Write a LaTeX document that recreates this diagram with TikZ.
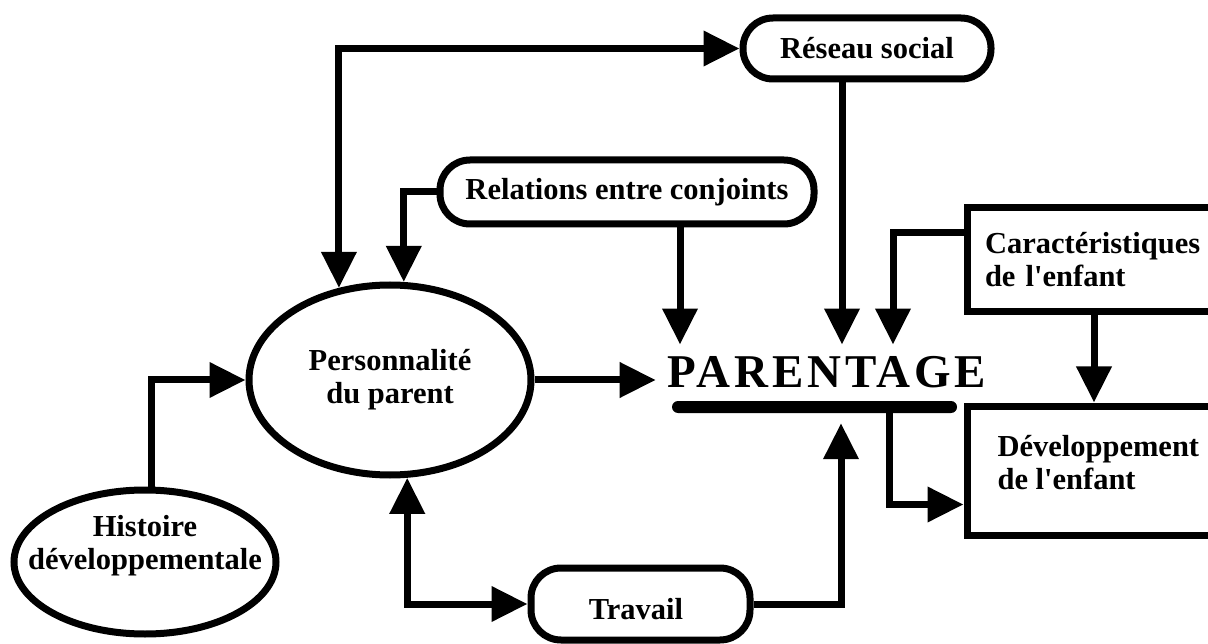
\documentclass[tikz,border=0pt]{standalone}
\usepackage{fontspec}
\setmainfont{Liberation Serif}
\newfontfamily\partitle{Liberation Serif}[LetterSpace=8]
\usetikzlibrary{arrows.meta,calc,shapes.geometric}

\tikzset{
  lbl/.style={font=\bfseries\fontsize{30.5}{33}\selectfont, align=center},
  pill/.style={draw, line width=7pt, rounded corners=30pt, inner sep=0pt},
  sqbox/.style={draw, line width=7pt, inner sep=0pt},
  oval/.style={draw, ellipse, line width=7pt, inner sep=0pt},
  tip/.tip={Triangle[length=36pt,width=34pt]},
  link/.style={line width=7pt, -tip},
  twoway/.style={line width=7pt, tip-tip}
}

\begin{document}
\begin{tikzpicture}[x=1pt,y=-1pt]
\useasboundingbox (0,0) rectangle (1208,644);

% boxes and ovals
\node[pill, lbl, minimum width=248pt, minimum height=61pt] (reseau) at (867,48.5) {Réseau social};
\node[pill, lbl, minimum width=374pt, minimum height=64pt] (relations) at (627,192) {Relations entre conjoints};
\node[pill, minimum width=219pt, minimum height=72pt] (travail) at (640.5,604) {};
\node[lbl] (travtxt) at (636,609) {Travail};
\node[oval, lbl, minimum width=282pt, minimum height=190pt] (perso) at (390,380) {Personnalité\\du parent};
\node[oval, minimum width=262pt, minimum height=144pt] (histoire) at (145,562) {};
\node[lbl] (histtxt) at (145,546) {Histoire\\développementale};
\node[sqbox, lbl, align=left, text width=250pt, inner xsep=18pt, minimum width=286pt, minimum height=104pt] (caract) at (1110,260) {Caractéristiques\\de l\textquotesingle enfant};
\node[sqbox, minimum width=286pt, minimum height=129pt] (dev) at (1110,470.5) {};
\node[lbl, align=left, anchor=west] (devtxt) at (994,463) {Développement\\de l\textquotesingle enfant};

% central term and its bar
\node[inner xsep=12pt, inner ysep=12pt, font=\partitle\bfseries\fontsize{47}{50}\selectfont] (parentage) at (827,372.5) {PARENTAGE};
\node[fill, rounded corners=6pt, minimum width=285pt, minimum height=12pt, inner sep=0pt] (bar) at (814.5,407) {};

% connectors
\draw[twoway] (reseau.west) -| (perso.119);
\draw[link] (relations.west) -| (perso.82);
\draw[link] (relations.south -| 680,0) -- (parentage.north -| 680,0);
\draw[link] (reseau.south -| 842,0) -- (parentage.north -| 842,0);
\draw[link] ($(caract.north west)!0.25!(caract.south west)$) -| (parentage.north -| 893,0);
\draw[link] (perso.east) -- (parentage.west |- perso.east);
\draw[link] (histoire.north -| 151,0) |- (perso.west);
\draw[twoway] (perso.-80) |- (travail.west);
\draw[link, shorten >=10pt] (travail.east) -| (bar.south -| 841,0);
\draw[link] (caract.south -| 1094,0) -- (dev.north -| 1094,0);
\draw[link] (bar.center -| 889,0) |- ($(dev.north west)!0.75!(dev.south west)$);
\end{tikzpicture}
\end{document}
